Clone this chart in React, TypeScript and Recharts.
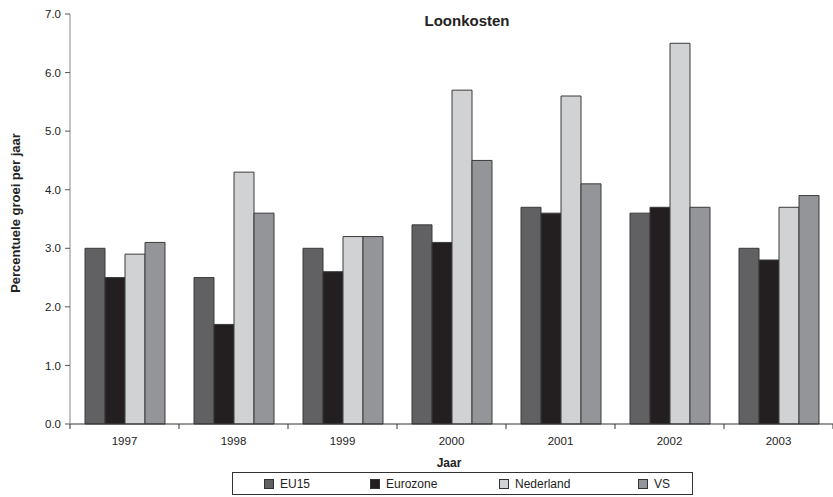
import React from "react";
import { BarChart, Bar, XAxis, YAxis, Customized } from "recharts";

const years = ["1997", "1998", "1999", "2000", "2001", "2002", "2003"];
const eu15 = [3.0, 2.5, 3.0, 3.4, 3.7, 3.6, 3.0];
const eurozone = [2.5, 1.7, 2.6, 3.1, 3.6, 3.7, 2.8];
const nederland = [2.9, 4.3, 3.2, 5.7, 5.6, 6.5, 3.7];
const vs = [3.1, 3.6, 3.2, 4.5, 4.1, 3.7, 3.9];
const yTicks = [0, 1, 2, 3, 4, 5, 6, 7];

const seriesNames = ["EU15", "Eurozone", "Nederland", "VS"];
const seriesKeys = ["eu15", "eurozone", "nederland", "vs"];
const colors = ["#616062", "#231f20", "#d1d2d4", "#949598"];

const data = years.map((y, i) => ({
  year: y,
  eu15: eu15[i],
  eurozone: eurozone[i],
  nederland: nederland[i],
  vs: vs[i],
}));

const W = 833;
const H = 497;
const LEFT = 70;
const RIGHT_M = 0;
const BW = (W - LEFT - RIGHT_M) / years.length;
const font = "'Liberation Sans', Arial, sans-serif";

const XTick = (props: any) => {
  const { x, y, payload, index } = props;
  return (
    <g>
      <line x1={x - BW / 2} x2={x - BW / 2} y1={y} y2={y + 5} stroke="#333" />
      {index === years.length - 1 && (
        <line x1={x + BW / 2} x2={x + BW / 2} y1={y} y2={y + 5} stroke="#333" />
      )}
      <text x={x} y={y + 21} textAnchor="middle" fontSize={11.5} fill="#222" fontFamily={font}>
        {payload.value}
      </text>
    </g>
  );
};

const LegendBox = () => (
  <div
    style={{
      position: "absolute",
      left: 232,
      top: 472,
      border: "1px solid #333",
      height: 21,
      width: 459,
      fontFamily: font,
      fontSize: 12,
      color: "#222",
    }}
  >
    {seriesNames.map((n, i) => {
      const lefts = [31, 137, 266, 405];
      return (
        <div key={n} style={{ position: "absolute", left: lefts[i], top: 4, display: "flex", alignItems: "center" }}>
          <span
            style={{
              display: "inline-block",
              width: 8,
              height: 8,
              background: colors[i],
              border: "1px solid #333",
              marginRight: 6,
            }}
          />
          <span>{n}</span>
        </div>
      );
    })}
  </div>
);

const Texts = () => (
  <g fontFamily={font} fill="#222">
    <text x={467} y={26} textAnchor="middle" fontSize={15} fontWeight="bold">
      Loonkosten
    </text>
    <text x={449} y={467} textAnchor="middle" fontSize={12} fontWeight="bold">
      Jaar
    </text>
    <text
      x={20}
      y={213}
      textAnchor="middle"
      fontSize={13}
      fontWeight="bold"
      transform="rotate(-90 20 213)"
    >
      Percentuele groei per jaar
    </text>
  </g>
);

export default function App() {
  return (
    <div style={{ position: "absolute", left: 0, top: 0, width: W, height: H, background: "#fff" }}>
      <BarChart
        width={W}
        height={H}
        data={data}
        margin={{ top: 14, right: RIGHT_M, bottom: 43, left: 0 }}
        barCategoryGap={15}
        barGap={0}
      >
        <XAxis
          dataKey="year"
          height={30}
          axisLine={{ stroke: "#333" }}
          tickLine={false}
          tickSize={0}
          tickMargin={0}
          tick={<XTick />}
          interval={0}
        />
        <YAxis
          width={LEFT}
          domain={[0, 7]}
          ticks={yTicks}
          tickFormatter={(v: number) => v.toFixed(1)}
          axisLine={{ stroke: "#888" }}
          tickLine={{ stroke: "#555" }}
          tickSize={5}
          tickMargin={4}
          tick={{ fontSize: 11.5, fill: "#222", fontFamily: font }}
        />
        {seriesKeys.map((k, i) => (
          <Bar
            key={k}
            dataKey={k}
            name={seriesNames[i]}
            fill={colors[i]}
            stroke="#3a3a3a"
            strokeWidth={1}
            isAnimationActive={false}
          />
        ))}
        <Customized component={<Texts />} />
      </BarChart>
      <LegendBox />
    </div>
  );
}
